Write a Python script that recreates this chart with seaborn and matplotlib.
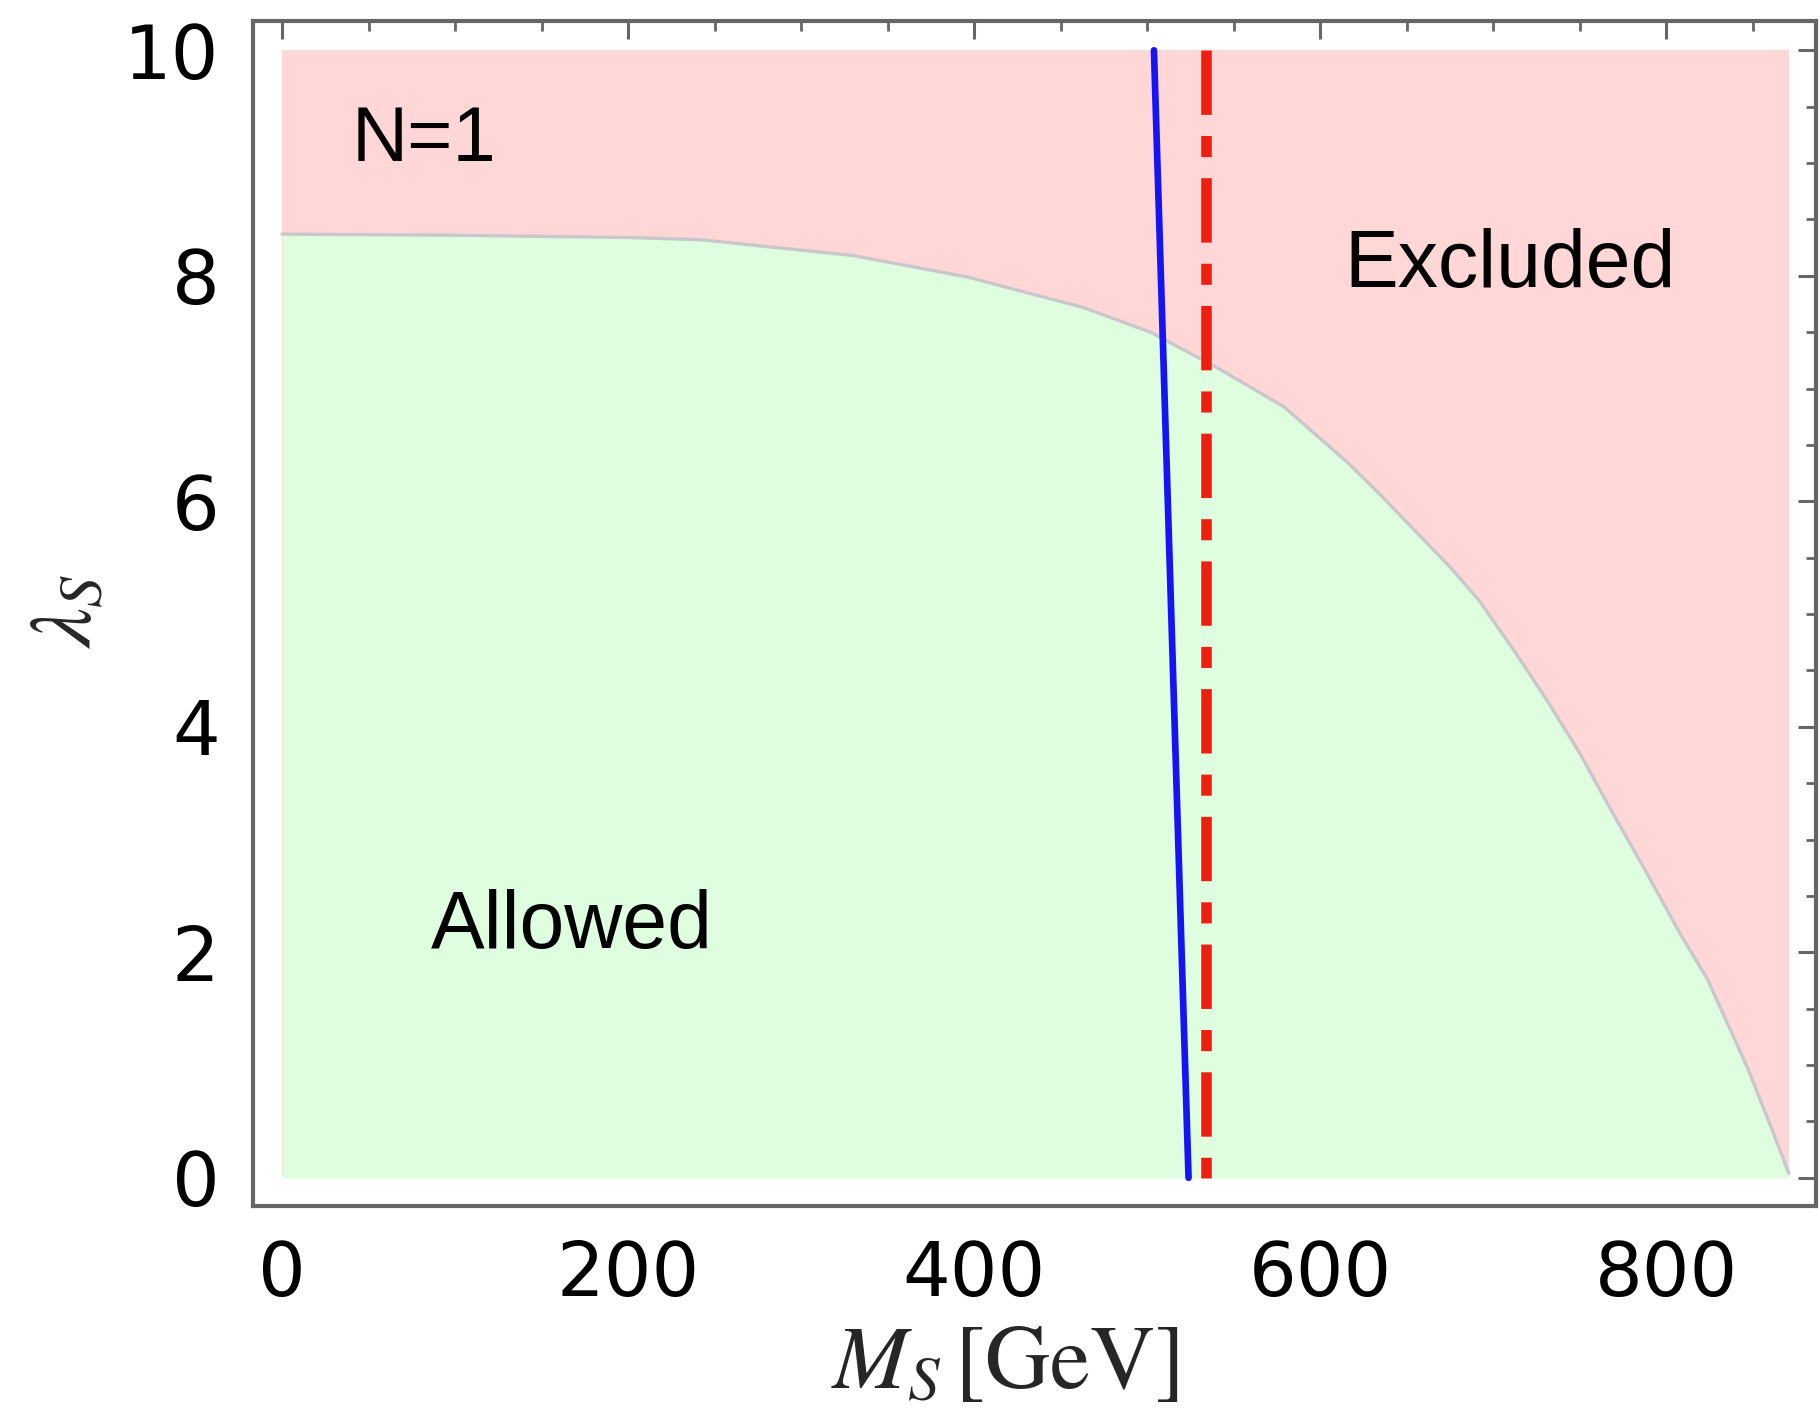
import numpy as np
import pandas as pd
import matplotlib
matplotlib.use("Agg")
import matplotlib.pyplot as plt
import seaborn as sns
from matplotlib.ticker import MultipleLocator

# ---------------- data ----------------
boundary_ms = [0, 100, 200, 242, 330, 396, 463, 502, 540, 579, 617, 636, 675, 692,
               712, 731, 750, 769, 789, 808, 824, 847, 862, 871]
boundary_lam = [8.37, 8.36, 8.34, 8.32, 8.18, 7.99, 7.72, 7.50, 7.19, 6.84, 6.33, 6.04,
                5.42, 5.12, 4.68, 4.24, 3.77, 3.24, 2.70, 2.17, 1.76, 0.98, 0.40, 0.04]

blue_ms = [504, 514, 524]
blue_lam = [10, 5, 0]

red_ms = [534, 534]
red_lam = [10, 0]

x_range = [0, 871]
lam_top = 10

x_ticks = [0, 200, 400, 600, 800]
y_ticks = [0, 2, 4, 6, 8, 10]

labels = {"n": "N=1", "exc": "Excluded", "allow": "Allowed"}

# ---------------- style ----------------
sns.set_theme(style="white")
plt.rcParams['font.family'] = ['Liberation Sans', 'DejaVu Sans']
plt.rcParams['mathtext.fontset'] = 'stix'

fig = plt.figure(figsize=(18.19, 14.18), dpi=100)
ax = fig.add_axes([253/1819, 1-1206/1418, (1816-253)/1819, (1206-21)/1418])

pink = "#FFD7D7"
green = "#DFFEDF"

# excluded (pink) rectangle and allowed (green) region
ax.fill_between(x_range, [0, 0], [lam_top, lam_top], color=pink, lw=0, zorder=1)
bdf = pd.DataFrame({"ms": boundary_ms, "lam": boundary_lam})
ax.fill_between(bdf["ms"], 0, bdf["lam"], color=green, lw=0, zorder=2)
sns.lineplot(data=bdf, x="ms", y="lam", ax=ax, color="#C9C6CC", lw=2.4,
             sort=False, estimator=None, zorder=3)

# blue line
blue_df = pd.DataFrame({"ms": blue_ms, "lam": blue_lam})
sns.lineplot(data=blue_df, x="ms", y="lam", ax=ax, color="#1414F5", lw=4.8,
             sort=False, estimator=None, zorder=5, solid_capstyle="round")

# red dash-dot line
red_df = pd.DataFrame({"ms": red_ms, "lam": red_lam})
sns.lineplot(data=red_df, x="ms", y="lam", ax=ax, color="#EE1E10", lw=7.6,
             sort=False, estimator=None, zorder=6)
ax.lines[-1].set_dashes((6.1, 2.0, 2.0, 2.0))
ax.lines[-1].set_dash_capstyle("butt")

# text
tkw = dict(color="black", ha="left", va="baseline", zorder=10)
ax.text(40, 9.02, labels["n"], fontsize=56, **tkw)
ax.text(614, 7.9, labels["exc"], fontsize=58, **tkw)
ax.text(86, 2.04, labels["allow"], fontsize=58, **tkw)

# axes
ax.set_xlim(-16.8, 886.7)
ax.set_ylim(-0.25, 10.26)
ax.set_xticks(x_ticks)
ax.set_yticks(y_ticks)
ax.xaxis.set_minor_locator(MultipleLocator(50))
ax.yaxis.set_minor_locator(MultipleLocator(0.5))
ax.tick_params(which="both", direction="in", top=True, right=True, colors="#666666",
               labelcolor="black", labelsize=54)
ax.tick_params(which="major", length=13, width=2.2, pad=24)
ax.tick_params(which="minor", length=7.5, width=2.0)
for lab in ax.get_xticklabels() + ax.get_yticklabels():
    lab.set_family("DejaVu Sans")
for s in ax.spines.values():
    s.set_color("#666666")
    s.set_linewidth(3)
    s.set_visible(True)

ax.set_xlabel(r"$M_S\,[\mathrm{GeV}]$", fontsize=65)
ax.xaxis.set_label_coords(0.481, -0.098)
ax.set_ylabel(r"$\lambda_S$", fontsize=64)
ax.yaxis.set_label_coords(-0.0915, 0.502)
ax.grid(False)

fig.savefig("out.png", dpi=100, facecolor="white")
